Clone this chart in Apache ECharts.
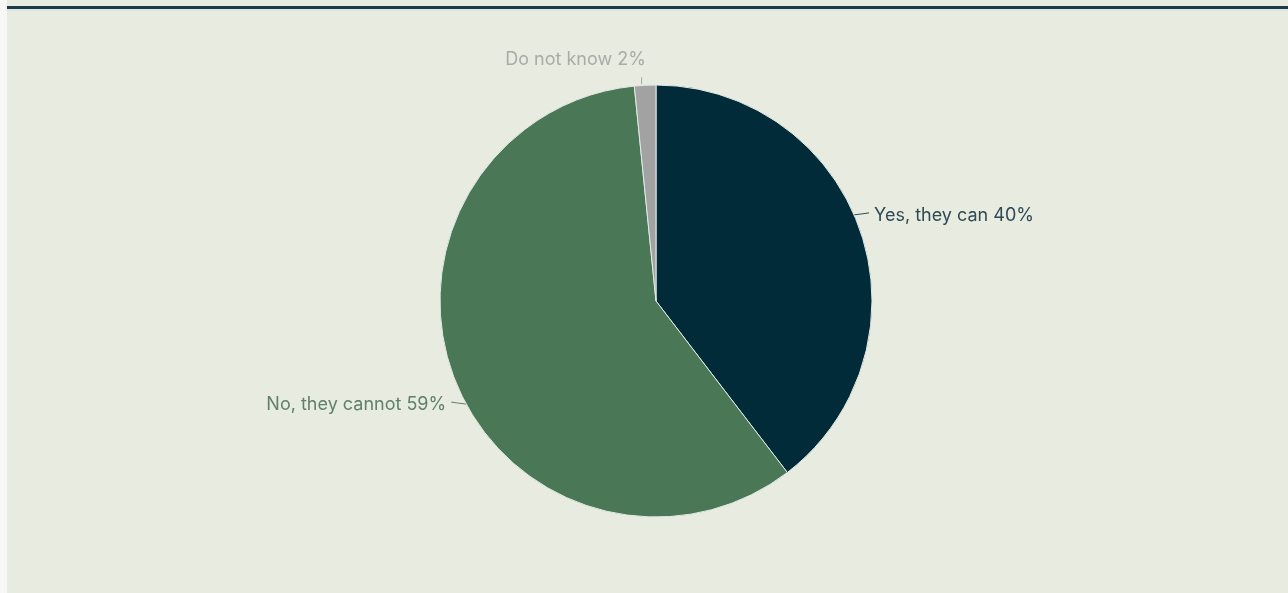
<!DOCTYPE html>
<html>
<head>
<meta charset="utf-8">
<style>
html,body{margin:0;padding:0;background:#f7f8f6;}
#chart{width:1288px;height:593px;}
</style>
<script src="https://cdn.jsdelivr.net/npm/echarts@6/dist/echarts.min.js"></script>
</head>
<body>
<div id="chart"></div>
<script>
const categories = ['Yes, they can', 'No, they cannot', 'Do not know'];
const values = [39.6, 58.8, 1.6];
const sliceColors = ['#022b3a', '#4a7856', '#a2a2a2'];
const labelColors = ['#2f4a55', '#5f8169', '#a9aba6'];

const CX = 656, CY = 301, R = 216;
// label anchor angles (degrees clockwise from 12 o'clock)
const anchorAngles = [66.5, 241.5, 357.5];

const chart = echarts.init(document.getElementById('chart'));
chart.setOption({
  backgroundColor: 'transparent',
  graphic: [
    { type: 'rect', shape: { x: 7, y: 0, width: 1281, height: 593 }, style: { fill: '#e8ebdf' }, z: -10 },
    { type: 'rect', shape: { x: 7, y: 6, width: 1281, height: 3 }, style: { fill: '#1f3a48' }, z: -5 },
    { type: 'rect', shape: { x: 7, y: 9, width: 1281, height: 2 }, style: { fill: '#dbe6e4' }, z: -5 }
  ],
  series: [{
    type: 'pie',
    center: [CX, CY],
    radius: [0, R],
    startAngle: 90,
    clockwise: true,
    avoidLabelOverlap: false,
    emphasis: { disabled: true },
    itemStyle: { borderColor: '#e2eae6', borderWidth: 1 },
    label: {
      show: true,
      formatter: function (p) { return p.name + ' ' + Math.round(p.value) + '%'; },
      fontFamily: 'Inter, "Noto Sans", sans-serif',
      fontSize: 18,
      position: 'outside'
    },
    labelLine: { show: true, length: 6, length2: 6, lineStyle: { width: 1 } },
    labelLayout: function (params) {
      const i = params.dataIndex;
      const a = anchorAngles[i] * Math.PI / 180;
      const px = CX + R * Math.sin(a);
      const py = CY - R * Math.cos(a);
      if (i === 2) {
        return {
          x: px - 71, y: py - 26, align: 'center', verticalAlign: 'middle',
          labelLinePoints: [[px - 5, py - 1], [px - 5, py - 8], [px - 5, py - 8]]
        };
      }
      const dir = Math.sin(a) >= 0 ? 1 : -1;
      return {
        x: px + dir * 20, y: py + 1,
        align: dir > 0 ? 'left' : 'right', verticalAlign: 'middle',
        labelLinePoints: [[px, py], [px + dir * 8, py - 1], [px + dir * 15, py - 2]]
      };
    },
    data: categories.map((c, i) => ({
      name: c,
      value: values[i],
      itemStyle: { color: sliceColors[i] },
      label: { color: labelColors[i] },
      labelLine: { lineStyle: { color: labelColors[i] } }
    }))
  }]
});
</script>
</body>
</html>
